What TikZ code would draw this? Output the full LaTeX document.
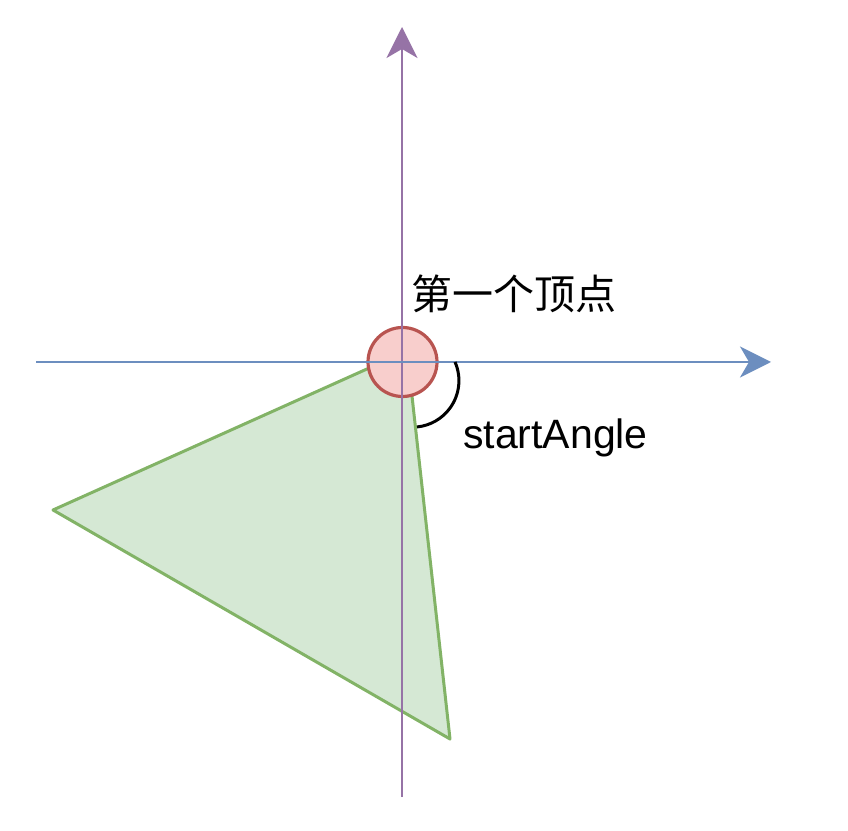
\documentclass[tikz,border=0pt]{standalone}
\usepackage{fontspec}
\newfontfamily\cjk{Noto Sans CJK SC}
\newfontfamily\arialf{Liberation Sans}
\usetikzlibrary{arrows.meta}
\definecolor{axisblue}{HTML}{6C8EBF}
\definecolor{axispurple}{HTML}{9673A6}
\definecolor{redfill}{HTML}{F8CECC}
\definecolor{redline}{HTML}{B85450}
\definecolor{greenfill}{HTML}{D5E8D4}
\definecolor{greenline}{HTML}{82B366}
\tikzset{
  axisline/.style={line width=2.6pt, -{Stealth[length=31pt,width=31pt,inset=9pt]}},
  tri/.style={fill=greenfill, draw=greenline, line width=3pt, line join=round},
  vertexdot/.style={circle, fill=redfill, draw=redline, line width=3.2pt, minimum size=69pt, inner sep=0pt},
  anglearc/.style={draw=black, line width=3pt},
  lbl/.style={inner sep=0pt, anchor=base west, text=black}
}
\begin{document}
\begin{tikzpicture}[x=1pt,y=1pt]
\useasboundingbox (0,0) rectangle (848,830);
% triangle
\coordinate (pA) at (407,479);
\coordinate (pB) at (53,320);
\coordinate (pC) at (450,91);
\draw[tri] (pA) -- (pB) -- (pC) -- cycle;
% first vertex marker
\node[vertexdot] (v1) at (402.5,468) {};
% axes
\coordinate (xs) at (36,468);
\coordinate (xe) at (771,468);
\coordinate (ys) at (402,33);
\coordinate (ye) at (402,803);
\draw[axisline, draw=axispurple, fill=axispurple] (ys) -- (ye);
\draw[axisline, draw=axisblue, fill=axisblue] (xs) -- (xe);
% angle arc
\coordinate (arcstart) at (455,468);
\draw[anglearc] (arcstart) arc[start angle=23.7, end angle=-84.3, radius=46.5];
% labels
\node[lbl] (t1) at (411,520) {\cjk\fontsize{41}{49}\selectfont 第一个顶点};
\node[lbl] (t2) at (463,381) {\arialf\fontsize{41}{49}\selectfont startAngle};
\end{tikzpicture}
\end{document}
